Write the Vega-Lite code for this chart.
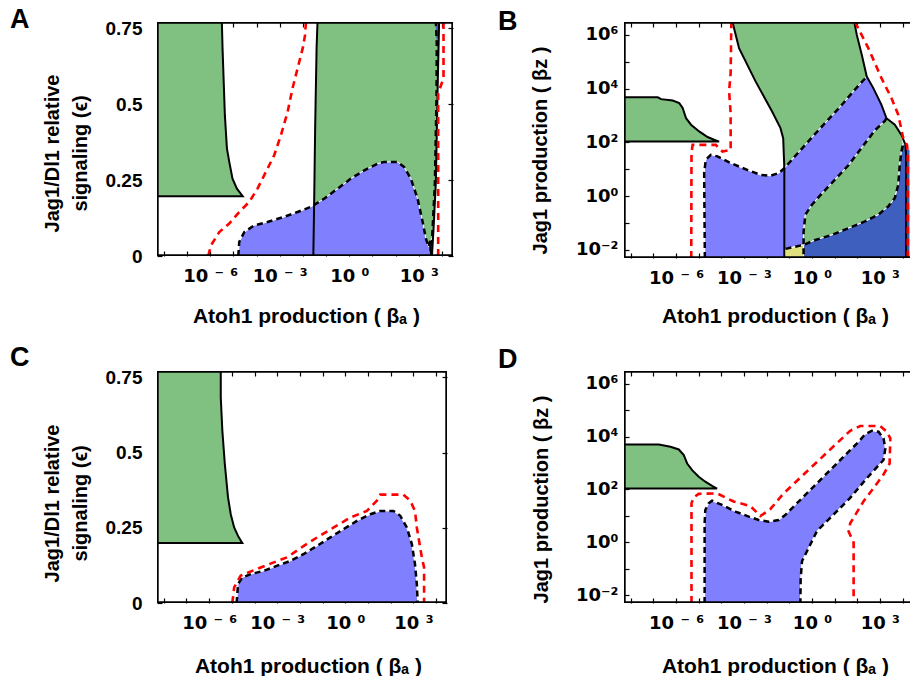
{
"$schema": "https://vega.github.io/schema/vega-lite/v6.json",
"background": "white",
"padding": {"left": 10, "top": 5, "right": 0, "bottom": 0},
"columns": 2,
"bounds": "flush",
"spacing": {"row": 113, "column": 171},
"datasets": {
"A_fill": [
{"g":"g1","c":"green","x":-8.3,"y":0.197},{"g":"g1","c":"green","x":-4.6,"y":0.197},{"g":"g1","c":"green","x":-4.85,"y":0.222},{"g":"g1","c":"green","x":-5.04,"y":0.255},{"g":"g1","c":"green","x":-5.18,"y":0.31},{"g":"g1","c":"green","x":-5.28,"y":0.354},{"g":"g1","c":"green","x":-5.37,"y":0.464},{"g":"g1","c":"green","x":-5.42,"y":0.574},{"g":"g1","c":"green","x":-5.47,"y":0.684},{"g":"g1","c":"green","x":-5.5,"y":0.771},{"g":"g1","c":"green","x":-8.3,"y":0.771},
{"g":"g2","c":"green","x":-1.55,"y":0},{"g":"g2","c":"green","x":-1.51,"y":0.2},{"g":"g2","c":"green","x":-1.47,"y":0.43},{"g":"g2","c":"green","x":-1.41,"y":0.684},{"g":"g2","c":"green","x":-1.37,"y":0.771},{"g":"g2","c":"green","x":3.88,"y":0.771},{"g":"g2","c":"green","x":3.81,"y":0.53},{"g":"g2","c":"green","x":3.74,"y":0.244},{"g":"g2","c":"green","x":3.64,"y":0.09},{"g":"g2","c":"green","x":3.57,"y":0},
{"g":"b1","c":"lightblue","x":-4.79,"y":0},{"g":"b1","c":"lightblue","x":-4.75,"y":0.046},{"g":"b1","c":"lightblue","x":-4.53,"y":0.079},{"g":"b1","c":"lightblue","x":-4.1,"y":0.101},{"g":"b1","c":"lightblue","x":-3.53,"y":0.112},{"g":"b1","c":"lightblue","x":-2.81,"y":0.129},{"g":"b1","c":"lightblue","x":-2.23,"y":0.145},{"g":"b1","c":"lightblue","x":-1.65,"y":0.162},{"g":"b1","c":"lightblue","x":-1.08,"y":0.189},{"g":"b1","c":"lightblue","x":-0.5,"y":0.222},{"g":"b1","c":"lightblue","x":0.07,"y":0.255},{"g":"b1","c":"lightblue","x":0.65,"y":0.282},{"g":"b1","c":"lightblue","x":1.22,"y":0.304},{"g":"b1","c":"lightblue","x":1.51,"y":0.31},{"g":"b1","c":"lightblue","x":2.09,"y":0.31},{"g":"b1","c":"lightblue","x":2.37,"y":0.293},{"g":"b1","c":"lightblue","x":2.66,"y":0.255},{"g":"b1","c":"lightblue","x":2.95,"y":0.189},{"g":"b1","c":"lightblue","x":3.17,"y":0.112},{"g":"b1","c":"lightblue","x":3.31,"y":0.057},{"g":"b1","c":"lightblue","x":3.43,"y":0.03},{"g":"b1","c":"lightblue","x":3.5,"y":0.05},{"g":"b1","c":"lightblue","x":3.58,"y":0.06},{"g":"b1","c":"lightblue","x":3.57,"y":0},
{"g":"d1","c":"darkblue","x":3.72,"y":0.771},{"g":"d1","c":"darkblue","x":3.92,"y":0.771},{"g":"d1","c":"darkblue","x":3.86,"y":0.72},{"g":"d1","c":"darkblue","x":3.78,"y":0.7}
],
"A_solid": [
{"g":"s1","x":-8.3,"y":0.197},{"g":"s1","x":-4.6,"y":0.197},{"g":"s1","x":-4.85,"y":0.222},{"g":"s1","x":-5.04,"y":0.255},{"g":"s1","x":-5.18,"y":0.31},{"g":"s1","x":-5.28,"y":0.354},{"g":"s1","x":-5.37,"y":0.464},{"g":"s1","x":-5.42,"y":0.574},{"g":"s1","x":-5.47,"y":0.684},{"g":"s1","x":-5.5,"y":0.771},
{"g":"s2","x":-1.55,"y":0},{"g":"s2","x":-1.51,"y":0.2},{"g":"s2","x":-1.47,"y":0.43},{"g":"s2","x":-1.41,"y":0.684},{"g":"s2","x":-1.37,"y":0.771},
{"g":"s3","x":3.57,"y":0},{"g":"s3","x":3.64,"y":0.09},{"g":"s3","x":3.74,"y":0.244},{"g":"s3","x":3.81,"y":0.53},{"g":"s3","x":3.88,"y":0.771}
],
"A_dash": [
{"g":"d1","x":-4.79,"y":0},{"g":"d1","x":-4.75,"y":0.046},{"g":"d1","x":-4.53,"y":0.079},{"g":"d1","x":-4.1,"y":0.101},{"g":"d1","x":-3.53,"y":0.112},{"g":"d1","x":-2.81,"y":0.129},{"g":"d1","x":-2.23,"y":0.145},{"g":"d1","x":-1.65,"y":0.162},{"g":"d1","x":-1.08,"y":0.189},{"g":"d1","x":-0.5,"y":0.222},{"g":"d1","x":0.07,"y":0.255},{"g":"d1","x":0.65,"y":0.282},{"g":"d1","x":1.22,"y":0.304},{"g":"d1","x":1.51,"y":0.31},{"g":"d1","x":2.09,"y":0.31},{"g":"d1","x":2.37,"y":0.293},{"g":"d1","x":2.66,"y":0.255},{"g":"d1","x":2.95,"y":0.189},{"g":"d1","x":3.17,"y":0.112},{"g":"d1","x":3.31,"y":0.057},{"g":"d1","x":3.43,"y":0.03},{"g":"d1","x":3.5,"y":0.05},{"g":"d1","x":3.52,"y":0},
{"g":"d2","x":3.53,"y":0},{"g":"d2","x":3.6,"y":0.09},{"g":"d2","x":3.7,"y":0.244},{"g":"d2","x":3.77,"y":0.53},{"g":"d2","x":3.78,"y":0.7},{"g":"d2","x":3.74,"y":0.771}
],
"A_red": [
{"g":"r1","x":-6.09,"y":0},{"g":"r1","x":-5.97,"y":0.035},{"g":"r1","x":-5.61,"y":0.079},{"g":"r1","x":-5.18,"y":0.107},{"g":"r1","x":-4.75,"y":0.145},{"g":"r1","x":-4.32,"y":0.178},{"g":"r1","x":-3.96,"y":0.222},{"g":"r1","x":-3.6,"y":0.277},{"g":"r1","x":-3.24,"y":0.332},{"g":"r1","x":-2.95,"y":0.398},{"g":"r1","x":-2.66,"y":0.475},{"g":"r1","x":-2.45,"y":0.552},{"g":"r1","x":-2.23,"y":0.618},{"g":"r1","x":-2.01,"y":0.684},{"g":"r1","x":-1.91,"y":0.727},{"g":"r1","x":-1.87,"y":0.771},
{"g":"r2","x":3.84,"y":0},{"g":"r2","x":3.84,"y":0.536},{"g":"r2","x":4.07,"y":0.586},{"g":"r2","x":4.07,"y":0.771}
],
"C_fill": [
{"g":"g1","c":"green","x":-8.3,"y":0.199},{"g":"g1","c":"green","x":-4.54,"y":0.199},{"g":"g1","c":"green","x":-4.73,"y":0.223},{"g":"g1","c":"green","x":-4.9,"y":0.251},{"g":"g1","c":"green","x":-5.05,"y":0.295},{"g":"g1","c":"green","x":-5.17,"y":0.351},{"g":"g1","c":"green","x":-5.31,"y":0.461},{"g":"g1","c":"green","x":-5.42,"y":0.572},{"g":"g1","c":"green","x":-5.49,"y":0.683},{"g":"g1","c":"green","x":-5.49,"y":0.771},{"g":"g1","c":"green","x":-8.3,"y":0.771},
{"g":"b1","c":"lightblue","x":-4.79,"y":0},{"g":"b1","c":"lightblue","x":-4.73,"y":0.063},{"g":"b1","c":"lightblue","x":-4.54,"y":0.085},{"g":"b1","c":"lightblue","x":-4.17,"y":0.096},{"g":"b1","c":"lightblue","x":-3.59,"y":0.107},{"g":"b1","c":"lightblue","x":-3.0,"y":0.124},{"g":"b1","c":"lightblue","x":-2.42,"y":0.14},{"g":"b1","c":"lightblue","x":-1.83,"y":0.163},{"g":"b1","c":"lightblue","x":-1.24,"y":0.19},{"g":"b1","c":"lightblue","x":-0.66,"y":0.218},{"g":"b1","c":"lightblue","x":-0.07,"y":0.246},{"g":"b1","c":"lightblue","x":0.51,"y":0.273},{"g":"b1","c":"lightblue","x":1.1,"y":0.295},{"g":"b1","c":"lightblue","x":1.54,"y":0.306},{"g":"b1","c":"lightblue","x":2.12,"y":0.306},{"g":"b1","c":"lightblue","x":2.42,"y":0.29},{"g":"b1","c":"lightblue","x":2.71,"y":0.251},{"g":"b1","c":"lightblue","x":2.93,"y":0.196},{"g":"b1","c":"lightblue","x":3.07,"y":0.129},{"g":"b1","c":"lightblue","x":3.15,"y":0.063},{"g":"b1","c":"lightblue","x":3.19,"y":0}
],
"C_solid": [
{"g":"s1","x":-8.3,"y":0.199},{"g":"s1","x":-4.54,"y":0.199},{"g":"s1","x":-4.73,"y":0.223},{"g":"s1","x":-4.9,"y":0.251},{"g":"s1","x":-5.05,"y":0.295},{"g":"s1","x":-5.17,"y":0.351},{"g":"s1","x":-5.31,"y":0.461},{"g":"s1","x":-5.42,"y":0.572},{"g":"s1","x":-5.49,"y":0.683},{"g":"s1","x":-5.49,"y":0.771}
],
"C_dash": [
{"g":"d1","x":-4.79,"y":0},{"g":"d1","x":-4.73,"y":0.063},{"g":"d1","x":-4.54,"y":0.085},{"g":"d1","x":-4.17,"y":0.096},{"g":"d1","x":-3.59,"y":0.107},{"g":"d1","x":-3.0,"y":0.124},{"g":"d1","x":-2.42,"y":0.14},{"g":"d1","x":-1.83,"y":0.163},{"g":"d1","x":-1.24,"y":0.19},{"g":"d1","x":-0.66,"y":0.218},{"g":"d1","x":-0.07,"y":0.246},{"g":"d1","x":0.51,"y":0.273},{"g":"d1","x":1.1,"y":0.295},{"g":"d1","x":1.54,"y":0.306},{"g":"d1","x":2.12,"y":0.306},{"g":"d1","x":2.42,"y":0.29},{"g":"d1","x":2.71,"y":0.251},{"g":"d1","x":2.93,"y":0.196},{"g":"d1","x":3.07,"y":0.129},{"g":"d1","x":3.15,"y":0.063},{"g":"d1","x":3.19,"y":0}
],
"C_red": [
{"g":"r1","x":-4.98,"y":0},{"g":"r1","x":-4.9,"y":0.052},{"g":"r1","x":-4.61,"y":0.091},{"g":"r1","x":-3.73,"y":0.118},{"g":"r1","x":-3.15,"y":0.135},{"g":"r1","x":-2.56,"y":0.152},{"g":"r1","x":-1.83,"y":0.19},{"g":"r1","x":-1.24,"y":0.218},{"g":"r1","x":-0.51,"y":0.251},{"g":"r1","x":0.22,"y":0.284},{"g":"r1","x":0.95,"y":0.306},{"g":"r1","x":1.39,"y":0.34},{"g":"r1","x":1.54,"y":0.36},{"g":"r1","x":2.56,"y":0.36},{"g":"r1","x":2.86,"y":0.34},{"g":"r1","x":3.07,"y":0.306},{"g":"r1","x":3.15,"y":0.251},{"g":"r1","x":3.37,"y":0.152},{"g":"r1","x":3.47,"y":0.118},{"g":"r1","x":3.47,"y":0}
],
"B_fill": [
{"g":"g1","c":"green","x":-8.3,"y":2.03},{"g":"g1","c":"green","x":-4.1,"y":2.03},{"g":"g1","c":"green","x":-4.32,"y":2.1},{"g":"g1","c":"green","x":-4.61,"y":2.2},{"g":"g1","c":"green","x":-4.98,"y":2.41},{"g":"g1","c":"green","x":-5.34,"y":2.66},{"g":"g1","c":"green","x":-5.56,"y":2.9},{"g":"g1","c":"green","x":-5.71,"y":3.28},{"g":"g1","c":"green","x":-5.86,"y":3.46},{"g":"g1","c":"green","x":-6.15,"y":3.56},{"g":"g1","c":"green","x":-6.66,"y":3.61},{"g":"g1","c":"green","x":-6.81,"y":3.68},{"g":"g1","c":"green","x":-8.3,"y":3.68},
{"g":"g2","c":"green","x":-3.51,"y":6.48},{"g":"g2","c":"green","x":-3.22,"y":5.51},{"g":"g2","c":"green","x":-2.49,"y":4.27},{"g":"g2","c":"green","x":-1.76,"y":3.15},{"g":"g2","c":"green","x":-1.39,"y":2.53},{"g":"g2","c":"green","x":-1.27,"y":2.16},{"g":"g2","c":"green","x":-1.24,"y":1.5},{"g":"g2","c":"green","x":-1.22,"y":1.04},{"g":"g2","c":"green","x":-0.5,"y":1.72},{"g":"g2","c":"green","x":0.37,"y":2.53},{"g":"g2","c":"green","x":1.24,"y":3.32},{"g":"g2","c":"green","x":1.83,"y":3.9},{"g":"g2","c":"green","x":2.42,"y":4.45},{"g":"g2","c":"green","x":2.2,"y":5.26},{"g":"g2","c":"green","x":1.98,"y":6.0},{"g":"g2","c":"green","x":1.87,"y":6.48},
{"g":"b1","c":"lightblue","x":-4.73,"y":-2.3},{"g":"b1","c":"lightblue","x":-4.76,"y":0.86},{"g":"b1","c":"lightblue","x":-4.69,"y":1.35},{"g":"b1","c":"lightblue","x":-4.47,"y":1.54},{"g":"b1","c":"lightblue","x":-4.17,"y":1.48},{"g":"b1","c":"lightblue","x":-3.59,"y":1.23},{"g":"b1","c":"lightblue","x":-2.86,"y":0.98},{"g":"b1","c":"lightblue","x":-2.27,"y":0.79},{"g":"b1","c":"lightblue","x":-1.83,"y":0.76},{"g":"b1","c":"lightblue","x":-1.46,"y":0.86},{"g":"b1","c":"lightblue","x":-1.22,"y":1.04},{"g":"b1","c":"lightblue","x":-0.5,"y":1.72},{"g":"b1","c":"lightblue","x":0.37,"y":2.53},{"g":"b1","c":"lightblue","x":1.24,"y":3.32},{"g":"b1","c":"lightblue","x":1.83,"y":3.9},{"g":"b1","c":"lightblue","x":2.42,"y":4.45},{"g":"b1","c":"lightblue","x":2.71,"y":4.02},{"g":"b1","c":"lightblue","x":3.07,"y":3.4},{"g":"b1","c":"lightblue","x":3.29,"y":2.9},{"g":"b1","c":"lightblue","x":3.22,"y":2.8},{"g":"b1","c":"lightblue","x":2.78,"y":2.45},{"g":"b1","c":"lightblue","x":1.61,"y":1.15},{"g":"b1","c":"lightblue","x":0.44,"y":0.1},{"g":"b1","c":"lightblue","x":0,"y":-0.32},{"g":"b1","c":"lightblue","x":-0.29,"y":-0.69},{"g":"b1","c":"lightblue","x":-0.37,"y":-1.32},{"g":"b1","c":"lightblue","x":-0.37,"y":-1.81},{"g":"b1","c":"lightblue","x":-1.17,"y":-1.96},{"g":"b1","c":"lightblue","x":-1.19,"y":-2.3},
{"g":"g3","c":"green","x":3.29,"y":2.9},{"g":"g3","c":"green","x":3.66,"y":2.66},{"g":"g3","c":"green","x":3.95,"y":2.28},{"g":"g3","c":"green","x":4.03,"y":1.95},{"g":"g3","c":"green","x":3.95,"y":1.66},{"g":"g3","c":"green","x":3.88,"y":1.17},{"g":"g3","c":"green","x":3.81,"y":0.42},{"g":"g3","c":"green","x":3.66,"y":-0.07},{"g":"g3","c":"green","x":3.37,"y":-0.38},{"g":"g3","c":"green","x":2.93,"y":-0.69},{"g":"g3","c":"green","x":2.34,"y":-0.94},{"g":"g3","c":"green","x":1.61,"y":-1.19},{"g":"g3","c":"green","x":0.88,"y":-1.44},{"g":"g3","c":"green","x":0.15,"y":-1.63},{"g":"g3","c":"green","x":-0.37,"y":-1.81},{"g":"g3","c":"green","x":-0.37,"y":-1.32},{"g":"g3","c":"green","x":-0.29,"y":-0.69},{"g":"g3","c":"green","x":0,"y":-0.32},{"g":"g3","c":"green","x":0.44,"y":0.1},{"g":"g3","c":"green","x":1.61,"y":1.15},{"g":"g3","c":"green","x":2.78,"y":2.45},{"g":"g3","c":"green","x":3.22,"y":2.8},
{"g":"d1","c":"darkblue","x":-0.37,"y":-1.81},{"g":"d1","c":"darkblue","x":0.15,"y":-1.63},{"g":"d1","c":"darkblue","x":0.88,"y":-1.44},{"g":"d1","c":"darkblue","x":1.61,"y":-1.19},{"g":"d1","c":"darkblue","x":2.34,"y":-0.94},{"g":"d1","c":"darkblue","x":2.93,"y":-0.69},{"g":"d1","c":"darkblue","x":3.37,"y":-0.38},{"g":"d1","c":"darkblue","x":3.66,"y":-0.07},{"g":"d1","c":"darkblue","x":3.81,"y":0.42},{"g":"d1","c":"darkblue","x":3.88,"y":1.17},{"g":"d1","c":"darkblue","x":3.95,"y":1.66},{"g":"d1","c":"darkblue","x":4.03,"y":1.95},{"g":"d1","c":"darkblue","x":4.13,"y":1.91},{"g":"d1","c":"darkblue","x":4.2,"y":1.75},{"g":"d1","c":"darkblue","x":4.33,"y":1.75},{"g":"d1","c":"darkblue","x":4.33,"y":-2.3},{"g":"d1","c":"darkblue","x":-0.37,"y":-2.3},
{"g":"y1","c":"yellow","x":-1.19,"y":-2.3},{"g":"y1","c":"yellow","x":-1.17,"y":-1.96},{"g":"y1","c":"yellow","x":-0.37,"y":-1.81},{"g":"y1","c":"yellow","x":-0.37,"y":-2.3}
],
"B_solid": [
{"g":"s1","x":-8.3,"y":3.68},{"g":"s1","x":-6.81,"y":3.68},{"g":"s1","x":-6.66,"y":3.61},{"g":"s1","x":-6.15,"y":3.56},{"g":"s1","x":-5.86,"y":3.46},{"g":"s1","x":-5.71,"y":3.28},{"g":"s1","x":-5.56,"y":2.9},{"g":"s1","x":-5.34,"y":2.66},{"g":"s1","x":-4.98,"y":2.41},{"g":"s1","x":-4.61,"y":2.2},{"g":"s1","x":-4.32,"y":2.1},{"g":"s1","x":-4.1,"y":2.03},{"g":"s1","x":-8.3,"y":2.03},
{"g":"s2","x":-3.51,"y":6.48},{"g":"s2","x":-3.22,"y":5.51},{"g":"s2","x":-2.49,"y":4.27},{"g":"s2","x":-1.76,"y":3.15},{"g":"s2","x":-1.39,"y":2.53},{"g":"s2","x":-1.27,"y":2.16},{"g":"s2","x":-1.24,"y":1.5},{"g":"s2","x":-1.22,"y":1.04},{"g":"s2","x":-1.22,"y":-2.3},
{"g":"s3","x":1.87,"y":6.48},{"g":"s3","x":1.98,"y":6.0},{"g":"s3","x":2.2,"y":5.26},{"g":"s3","x":2.42,"y":4.45},{"g":"s3","x":2.71,"y":4.02},{"g":"s3","x":3.07,"y":3.4},{"g":"s3","x":3.29,"y":2.9},{"g":"s3","x":3.66,"y":2.66},{"g":"s3","x":3.95,"y":2.28},{"g":"s3","x":4.13,"y":1.91},{"g":"s3","x":4.16,"y":1.48},{"g":"s3","x":4.16,"y":-2.3}
],
"B_dash": [
{"g":"d1","x":-4.73,"y":-2.3},{"g":"d1","x":-4.76,"y":0.86},{"g":"d1","x":-4.69,"y":1.35},{"g":"d1","x":-4.47,"y":1.54},{"g":"d1","x":-4.17,"y":1.48},{"g":"d1","x":-3.59,"y":1.23},{"g":"d1","x":-2.86,"y":0.98},{"g":"d1","x":-2.27,"y":0.79},{"g":"d1","x":-1.83,"y":0.76},{"g":"d1","x":-1.46,"y":0.86},{"g":"d1","x":-1.22,"y":1.04},{"g":"d1","x":-0.5,"y":1.72},{"g":"d1","x":0.37,"y":2.53},{"g":"d1","x":1.24,"y":3.32},{"g":"d1","x":1.83,"y":3.9},{"g":"d1","x":2.42,"y":4.45},
{"g":"d2","x":3.29,"y":2.9},{"g":"d2","x":3.22,"y":2.8},{"g":"d2","x":2.78,"y":2.45},{"g":"d2","x":1.61,"y":1.15},{"g":"d2","x":0.44,"y":0.1},{"g":"d2","x":0,"y":-0.32},{"g":"d2","x":-0.29,"y":-0.69},{"g":"d2","x":-0.37,"y":-1.32},{"g":"d2","x":-0.37,"y":-2.3},
{"g":"d3","x":-1.17,"y":-1.96},{"g":"d3","x":-0.37,"y":-1.81},{"g":"d3","x":0.15,"y":-1.63},{"g":"d3","x":0.88,"y":-1.44},{"g":"d3","x":1.61,"y":-1.19},{"g":"d3","x":2.34,"y":-0.94},{"g":"d3","x":2.93,"y":-0.69},{"g":"d3","x":3.37,"y":-0.38},{"g":"d3","x":3.66,"y":-0.07},{"g":"d3","x":3.81,"y":0.42},{"g":"d3","x":3.88,"y":1.17},{"g":"d3","x":3.95,"y":1.66},{"g":"d3","x":4.03,"y":1.95}
],
"B_red": [
{"g":"r1","x":-5.33,"y":-2.3},{"g":"r1","x":-5.32,"y":1.6},{"g":"r1","x":-5.27,"y":1.91},{"g":"r1","x":-4.25,"y":1.91},{"g":"r1","x":-3.95,"y":1.66},{"g":"r1","x":-3.59,"y":1.72},{"g":"r1","x":-3.59,"y":3.09},{"g":"r1","x":-3.66,"y":3.9},{"g":"r1","x":-3.59,"y":4.58},{"g":"r1","x":-3.56,"y":6.48},
{"g":"r2","x":1.9,"y":6.48},{"g":"r2","x":2.49,"y":5.51},{"g":"r2","x":3.07,"y":4.39},{"g":"r2","x":3.51,"y":3.65},{"g":"r2","x":3.81,"y":3.03},{"g":"r2","x":4.03,"y":2.16},{"g":"r2","x":4.2,"y":1.9},{"g":"r2","x":4.23,"y":1.5},{"g":"r2","x":4.23,"y":-2.3}
],
"D_fill": [
{"g":"g1","c":"green","x":-8.3,"y":2.03},{"g":"g1","c":"green","x":-4.19,"y":2.03},{"g":"g1","c":"green","x":-4.41,"y":2.13},{"g":"g1","c":"green","x":-4.71,"y":2.29},{"g":"g1","c":"green","x":-5.0,"y":2.48},{"g":"g1","c":"green","x":-5.29,"y":2.73},{"g":"g1","c":"green","x":-5.51,"y":2.98},{"g":"g1","c":"green","x":-5.66,"y":3.3},{"g":"g1","c":"green","x":-5.88,"y":3.51},{"g":"g1","c":"green","x":-6.25,"y":3.61},{"g":"g1","c":"green","x":-6.76,"y":3.7},{"g":"g1","c":"green","x":-8.3,"y":3.7},
{"g":"b1","c":"lightblue","x":-4.74,"y":-2.3},{"g":"b1","c":"lightblue","x":-4.74,"y":0.72},{"g":"b1","c":"lightblue","x":-4.71,"y":1.22},{"g":"b1","c":"lightblue","x":-4.56,"y":1.47},{"g":"b1","c":"lightblue","x":-4.41,"y":1.57},{"g":"b1","c":"lightblue","x":-3.97,"y":1.41},{"g":"b1","c":"lightblue","x":-3.38,"y":1.16},{"g":"b1","c":"lightblue","x":-2.79,"y":0.97},{"g":"b1","c":"lightblue","x":-2.35,"y":0.84},{"g":"b1","c":"lightblue","x":-1.91,"y":0.78},{"g":"b1","c":"lightblue","x":-1.47,"y":0.84},{"g":"b1","c":"lightblue","x":-1.18,"y":1.03},{"g":"b1","c":"lightblue","x":-0.74,"y":1.41},{"g":"b1","c":"lightblue","x":-0.15,"y":1.91},{"g":"b1","c":"lightblue","x":0.44,"y":2.42},{"g":"b1","c":"lightblue","x":1.03,"y":2.92},{"g":"b1","c":"lightblue","x":1.62,"y":3.43},{"g":"b1","c":"lightblue","x":2.06,"y":3.8},{"g":"b1","c":"lightblue","x":2.35,"y":4.09},{"g":"b1","c":"lightblue","x":2.65,"y":4.22},{"g":"b1","c":"lightblue","x":2.94,"y":4.18},{"g":"b1","c":"lightblue","x":3.16,"y":3.93},{"g":"b1","c":"lightblue","x":3.24,"y":3.55},{"g":"b1","c":"lightblue","x":3.16,"y":3.11},{"g":"b1","c":"lightblue","x":2.43,"y":2.43},{"g":"b1","c":"lightblue","x":1.69,"y":1.68},{"g":"b1","c":"lightblue","x":0.96,"y":1.05},{"g":"b1","c":"lightblue","x":0.22,"y":0.42},{"g":"b1","c":"lightblue","x":-0.22,"y":-0.34},{"g":"b1","c":"lightblue","x":-0.44,"y":-0.72},{"g":"b1","c":"lightblue","x":-0.5,"y":-1.42},{"g":"b1","c":"lightblue","x":-0.51,"y":-2.3}
],
"D_solid": [
{"g":"s1","x":-8.3,"y":3.7},{"g":"s1","x":-6.76,"y":3.7},{"g":"s1","x":-6.25,"y":3.61},{"g":"s1","x":-5.88,"y":3.51},{"g":"s1","x":-5.66,"y":3.3},{"g":"s1","x":-5.51,"y":2.98},{"g":"s1","x":-5.29,"y":2.73},{"g":"s1","x":-5.0,"y":2.48},{"g":"s1","x":-4.71,"y":2.29},{"g":"s1","x":-4.41,"y":2.13},{"g":"s1","x":-4.19,"y":2.03},{"g":"s1","x":-8.3,"y":2.03}
],
"D_dash": [
{"g":"d1","x":-4.74,"y":-2.3},{"g":"d1","x":-4.74,"y":0.72},{"g":"d1","x":-4.71,"y":1.22},{"g":"d1","x":-4.56,"y":1.47},{"g":"d1","x":-4.41,"y":1.57},{"g":"d1","x":-3.97,"y":1.41},{"g":"d1","x":-3.38,"y":1.16},{"g":"d1","x":-2.79,"y":0.97},{"g":"d1","x":-2.35,"y":0.84},{"g":"d1","x":-1.91,"y":0.78},{"g":"d1","x":-1.47,"y":0.84},{"g":"d1","x":-1.18,"y":1.03},{"g":"d1","x":-0.74,"y":1.41},{"g":"d1","x":-0.15,"y":1.91},{"g":"d1","x":0.44,"y":2.42},{"g":"d1","x":1.03,"y":2.92},{"g":"d1","x":1.62,"y":3.43},{"g":"d1","x":2.06,"y":3.8},{"g":"d1","x":2.35,"y":4.09},{"g":"d1","x":2.65,"y":4.22},{"g":"d1","x":2.94,"y":4.18},{"g":"d1","x":3.16,"y":3.93},{"g":"d1","x":3.24,"y":3.55},{"g":"d1","x":3.16,"y":3.11},{"g":"d1","x":2.43,"y":2.43},{"g":"d1","x":1.69,"y":1.68},{"g":"d1","x":0.96,"y":1.05},{"g":"d1","x":0.22,"y":0.42},{"g":"d1","x":-0.22,"y":-0.34},{"g":"d1","x":-0.44,"y":-0.72},{"g":"d1","x":-0.5,"y":-1.42},{"g":"d1","x":-0.51,"y":-2.3}
],
"D_red": [
{"g":"r1","x":-5.32,"y":-2.3},{"g":"r1","x":-5.32,"y":1.47},{"g":"r1","x":-5.22,"y":1.7},{"g":"r1","x":-5.0,"y":1.83},{"g":"r1","x":-4.19,"y":1.85},{"g":"r1","x":-3.46,"y":1.54},{"g":"r1","x":-2.72,"y":1.37},{"g":"r1","x":-2.28,"y":0.99},{"g":"r1","x":-1.84,"y":1.25},{"g":"r1","x":-1.25,"y":1.85},{"g":"r1","x":0.15,"y":2.98},{"g":"r1","x":1.69,"y":4.22},{"g":"r1","x":2.13,"y":4.4},{"g":"r1","x":3.01,"y":4.4},{"g":"r1","x":3.31,"y":4.18},{"g":"r1","x":3.46,"y":3.93},{"g":"r1","x":3.43,"y":2.98},{"g":"r1","x":3.16,"y":2.56},{"g":"r1","x":2.72,"y":2.05},{"g":"r1","x":2.28,"y":1.55},{"g":"r1","x":1.69,"y":0.72},{"g":"r1","x":1.62,"y":0.4},{"g":"r1","x":1.84,"y":-0.01},{"g":"r1","x":1.84,"y":-2.3}
]
},
"concat": [
{
"width": 296, "height": 234,
"title": {"text": "A", "dx": -147, "offset": -35.6, "baseline": "alphabetic"},
"layer": [
{"data": {"name": "A_fill"},
 "mark": {"type": "line", "filled": true, "stroke": "white", "strokeWidth": 1, "clip": true},
 "encoding": {
  "x": {"field": "x", "type": "quantitative", "scale": {"domain": [-8.3, 4.48], "nice": false, "zero": false},
        "axis": {"orient": "bottom", "values": [-8,-7,-6,-5,-4,-3,-2,-1,0,1,2,3,4], "labelExpr": "datum.value == -6 ? '10 ⁻ ⁶' : datum.value == -3 ? '10 ⁻ ³' : datum.value == 0 ? '10 ⁰' : datum.value == 3 ? '10 ³' : ''", "labelFont": "DejaVu Sans", "labelFontSize": 18, "labelPadding": 16, "title": "Atoh1 production ( βₐ )", "titleFontSize": 21, "titleX": 149, "titleY": 66, "titleBaseline": "alphabetic"}},
  "y": {"field": "y", "type": "quantitative", "scale": {"domain": [0, 0.771], "nice": false, "zero": false},
        "axis": {"orient": "left", "values": [0, 0.25, 0.5, 0.75], "labelExpr": "datum.value == 0 ? '0' : datum.value == 0.25 ? '0.25' : datum.value == 0.5 ? '0.5' : '0.75'", "labelPadding": 20, "title": ["Jag1/Dl1 relative", "signaling (ϵ)"], "titleLineHeight": 28, "titleX": -99, "titleY": 131, "titleBaseline": "alphabetic"}},
  "color": {"field": "c", "type": "nominal", "scale": {"domain": ["green", "lightblue", "darkblue", "yellow"], "range": ["#80C080", "#8080FF", "#3F5FBF", "#E0E080"]}, "legend": null},
  "detail": {"field": "g"},
  "order": {"value": null}
 }},
{"data": {"name": "A_solid"},
 "mark": {"type": "line", "color": "black", "strokeWidth": 2, "clip": true},
 "encoding": {
  "x": {"field": "x", "type": "quantitative", "scale": {"domain": [-8.3, 4.48], "nice": false, "zero": false}, "axis": null},
  "y": {"field": "y", "type": "quantitative", "scale": {"domain": [0, 0.771], "nice": false, "zero": false}, "axis": null},
  "detail": {"field": "g"}, "order": {"value": null}}},
{"data": {"name": "A_dash"},
 "mark": {"type": "line", "color": "black", "strokeWidth": 2.5, "strokeDash": [6, 4], "clip": true},
 "encoding": {
  "x": {"field": "x", "type": "quantitative", "scale": {"domain": [-8.3, 4.48], "nice": false, "zero": false}, "axis": null},
  "y": {"field": "y", "type": "quantitative", "scale": {"domain": [0, 0.771], "nice": false, "zero": false}, "axis": null},
  "detail": {"field": "g"}, "order": {"value": null}}},
{"data": {"name": "A_red"},
 "mark": {"type": "line", "color": "#ff0000", "strokeWidth": 2.6, "strokeDash": [7, 5], "clip": true},
 "encoding": {
  "x": {"field": "x", "type": "quantitative", "scale": {"domain": [-8.3, 4.48], "nice": false, "zero": false}, "axis": {"orient": "top", "labels": false, "title": null, "values": [-8,-7,-6,-5,-4,-3,-2,-1,0,1,2,3,4]}},
  "y": {"field": "y", "type": "quantitative", "scale": {"domain": [0, 0.771], "nice": false, "zero": false}, "axis": {"orient": "right", "labels": false, "title": null, "values": [0, 0.25, 0.5, 0.75]}},
  "detail": {"field": "g"}, "order": {"value": null}}},
{"data": {"values": [{}]},
 "mark": {"type": "rect", "filled": false, "stroke": "black", "strokeWidth": 3.4, "clip": true},
 "encoding": {
  "x": {"datum": -8.3, "type": "quantitative", "scale": {"domain": [-8.3, 4.48], "nice": false, "zero": false}, "axis": null},
  "x2": {"datum": 4.48},
  "y": {"datum": 0, "type": "quantitative", "scale": {"domain": [0, 0.771], "nice": false, "zero": false}, "axis": null},
  "y2": {"datum": 0.771}}}
],
"resolve": {"axis": {"x": "independent", "y": "independent"}}
},
{
"width": 286, "height": 236,
"title": {"text": "B", "dx": -126, "offset": -35.6, "baseline": "alphabetic"},
"layer": [
{"data": {"name": "B_fill"},
 "mark": {"type": "line", "filled": true, "stroke": "white", "strokeWidth": 1, "clip": true},
 "encoding": {
  "x": {"field": "x", "type": "quantitative", "scale": {"domain": [-8.3, 4.33], "nice": false, "zero": false},
        "axis": {"orient": "bottom", "values": [-8,-7,-6,-5,-4,-3,-2,-1,0,1,2,3,4], "labelExpr": "datum.value == -6 ? '10 ⁻ ⁶' : datum.value == -3 ? '10 ⁻ ³' : datum.value == 0 ? '10 ⁰' : datum.value == 3 ? '10 ³' : ''", "labelFont": "DejaVu Sans", "labelFontSize": 18, "labelPadding": 16, "title": "Atoh1 production ( βₐ )", "titleFontSize": 21, "titleX": 151, "titleY": 64, "titleBaseline": "alphabetic"}},
  "y": {"field": "y", "type": "quantitative", "scale": {"domain": [-2.3, 6.48], "nice": false, "zero": false},
        "axis": {"orient": "left", "values": [-2,-1,0,1,2,3,4,5,6], "labelExpr": "datum.value == -2 ? '10⁻²' : datum.value == 0 ? '10⁰' : datum.value == 2 ? '10²' : datum.value == 4 ? '10⁴' : datum.value == 6 ? '10⁶' : ''", "labelFont": "DejaVu Sans", "labelFontSize": 18, "labelPadding": 11, "title": "Jag1 production ( βz )", "titleX": -78, "titleY": 128, "titleBaseline": "alphabetic"}},
  "color": {"field": "c", "type": "nominal", "scale": {"domain": ["green", "lightblue", "darkblue", "yellow"], "range": ["#80C080", "#8080FF", "#3F5FBF", "#E0E080"]}, "legend": null},
  "detail": {"field": "g"},
  "order": {"value": null}
 }},
{"data": {"name": "B_solid"},
 "mark": {"type": "line", "color": "black", "strokeWidth": 2, "clip": true},
 "encoding": {
  "x": {"field": "x", "type": "quantitative", "scale": {"domain": [-8.3, 4.33], "nice": false, "zero": false}, "axis": null},
  "y": {"field": "y", "type": "quantitative", "scale": {"domain": [-2.3, 6.48], "nice": false, "zero": false}, "axis": null},
  "detail": {"field": "g"}, "order": {"value": null}}},
{"data": {"name": "B_dash"},
 "mark": {"type": "line", "color": "black", "strokeWidth": 2.5, "strokeDash": [6, 4], "clip": true},
 "encoding": {
  "x": {"field": "x", "type": "quantitative", "scale": {"domain": [-8.3, 4.33], "nice": false, "zero": false}, "axis": null},
  "y": {"field": "y", "type": "quantitative", "scale": {"domain": [-2.3, 6.48], "nice": false, "zero": false}, "axis": null},
  "detail": {"field": "g"}, "order": {"value": null}}},
{"data": {"name": "B_red"},
 "mark": {"type": "line", "color": "#ff0000", "strokeWidth": 2.6, "strokeDash": [7, 5], "clip": true},
 "encoding": {
  "x": {"field": "x", "type": "quantitative", "scale": {"domain": [-8.3, 4.33], "nice": false, "zero": false}, "axis": {"orient": "top", "labels": false, "title": null, "values": [-8,-7,-6,-5,-4,-3,-2,-1,0,1,2,3,4]}},
  "y": {"field": "y", "type": "quantitative", "scale": {"domain": [-2.3, 6.48], "nice": false, "zero": false}, "axis": null},
  "detail": {"field": "g"}, "order": {"value": null}}},
{"data": {"values": [{}]},
 "mark": {"type": "rect", "filled": false, "stroke": "black", "strokeWidth": 3.4, "clip": true},
 "encoding": {
  "x": {"datum": -8.3, "type": "quantitative", "scale": {"domain": [-8.3, 4.33], "nice": false, "zero": false}, "axis": null},
  "x2": {"datum": 4.6},
  "y": {"datum": -2.3, "type": "quantitative", "scale": {"domain": [-2.3, 6.48], "nice": false, "zero": false}, "axis": null},
  "y2": {"datum": 6.48}}}
],
"resolve": {"axis": {"x": "independent", "y": "independent"}}
},
{
"width": 290, "height": 232,
"title": {"text": "C", "dx": -147, "offset": -24.3, "baseline": "alphabetic"},
"layer": [
{"data": {"name": "C_fill"},
 "mark": {"type": "line", "filled": true, "stroke": "white", "strokeWidth": 1, "clip": true},
 "encoding": {
  "x": {"field": "x", "type": "quantitative", "scale": {"domain": [-8.3, 4.48], "nice": false, "zero": false},
        "axis": {"orient": "bottom", "values": [-8,-7,-6,-5,-4,-3,-2,-1,0,1,2,3,4], "labelExpr": "datum.value == -6 ? '10 ⁻ ⁶' : datum.value == -3 ? '10 ⁻ ³' : datum.value == 0 ? '10 ⁰' : datum.value == 3 ? '10 ³' : ''", "labelFont": "DejaVu Sans", "labelFontSize": 18, "labelPadding": 16, "title": "Atoh1 production ( βₐ )", "titleFontSize": 21, "titleX": 151, "titleY": 69, "titleBaseline": "alphabetic"}},
  "y": {"field": "y", "type": "quantitative", "scale": {"domain": [0, 0.771], "nice": false, "zero": false},
        "axis": {"orient": "left", "values": [0, 0.25, 0.5, 0.75], "labelExpr": "datum.value == 0 ? '0' : datum.value == 0.25 ? '0.25' : datum.value == 0.5 ? '0.5' : '0.75'", "labelPadding": 20, "title": ["Jag1/Dl1 relative", "signaling (ϵ)"], "titleLineHeight": 28, "titleX": -99, "titleY": 132, "titleBaseline": "alphabetic"}},
  "color": {"field": "c", "type": "nominal", "scale": {"domain": ["green", "lightblue", "darkblue", "yellow"], "range": ["#80C080", "#8080FF", "#3F5FBF", "#E0E080"]}, "legend": null},
  "detail": {"field": "g"},
  "order": {"value": null}
 }},
{"data": {"name": "C_solid"},
 "mark": {"type": "line", "color": "black", "strokeWidth": 2, "clip": true},
 "encoding": {
  "x": {"field": "x", "type": "quantitative", "scale": {"domain": [-8.3, 4.48], "nice": false, "zero": false}, "axis": null},
  "y": {"field": "y", "type": "quantitative", "scale": {"domain": [0, 0.771], "nice": false, "zero": false}, "axis": null},
  "detail": {"field": "g"}, "order": {"value": null}}},
{"data": {"name": "C_dash"},
 "mark": {"type": "line", "color": "black", "strokeWidth": 2.5, "strokeDash": [6, 4], "clip": true},
 "encoding": {
  "x": {"field": "x", "type": "quantitative", "scale": {"domain": [-8.3, 4.48], "nice": false, "zero": false}, "axis": null},
  "y": {"field": "y", "type": "quantitative", "scale": {"domain": [0, 0.771], "nice": false, "zero": false}, "axis": null},
  "detail": {"field": "g"}, "order": {"value": null}}},
{"data": {"name": "C_red"},
 "mark": {"type": "line", "color": "#ff0000", "strokeWidth": 2.6, "strokeDash": [7, 5], "clip": true},
 "encoding": {
  "x": {"field": "x", "type": "quantitative", "scale": {"domain": [-8.3, 4.48], "nice": false, "zero": false}, "axis": {"orient": "top", "labels": false, "title": null, "values": [-8,-7,-6,-5,-4,-3,-2,-1,0,1,2,3,4]}},
  "y": {"field": "y", "type": "quantitative", "scale": {"domain": [0, 0.771], "nice": false, "zero": false}, "axis": {"orient": "right", "labels": false, "title": null, "values": [0, 0.25, 0.5, 0.75]}},
  "detail": {"field": "g"}, "order": {"value": null}}},
{"data": {"values": [{}]},
 "mark": {"type": "rect", "filled": false, "stroke": "black", "strokeWidth": 3.4, "clip": true},
 "encoding": {
  "x": {"datum": -8.3, "type": "quantitative", "scale": {"domain": [-8.3, 4.48], "nice": false, "zero": false}, "axis": null},
  "x2": {"datum": 4.48},
  "y": {"datum": 0, "type": "quantitative", "scale": {"domain": [0, 0.771], "nice": false, "zero": false}, "axis": null},
  "y2": {"datum": 0.771}}}
],
"resolve": {"axis": {"x": "independent", "y": "independent"}}
},
{
"width": 286, "height": 232,
"title": {"text": "D", "dx": -126, "offset": -24.3, "baseline": "alphabetic"},
"layer": [
{"data": {"name": "D_fill"},
 "mark": {"type": "line", "filled": true, "stroke": "white", "strokeWidth": 1, "clip": true},
 "encoding": {
  "x": {"field": "x", "type": "quantitative", "scale": {"domain": [-8.3, 4.33], "nice": false, "zero": false},
        "axis": {"orient": "bottom", "values": [-8,-7,-6,-5,-4,-3,-2,-1,0,1,2,3,4], "labelExpr": "datum.value == -6 ? '10 ⁻ ⁶' : datum.value == -3 ? '10 ⁻ ³' : datum.value == 0 ? '10 ⁰' : datum.value == 3 ? '10 ³' : ''", "labelFont": "DejaVu Sans", "labelFontSize": 18, "labelPadding": 16, "title": "Atoh1 production ( βₐ )", "titleFontSize": 21, "titleX": 151, "titleY": 69, "titleBaseline": "alphabetic"}},
  "y": {"field": "y", "type": "quantitative", "scale": {"domain": [-2.3, 6.48], "nice": false, "zero": false},
        "axis": {"orient": "left", "values": [-2,-1,0,1,2,3,4,5,6], "labelExpr": "datum.value == -2 ? '10⁻²' : datum.value == 0 ? '10⁰' : datum.value == 2 ? '10²' : datum.value == 4 ? '10⁴' : datum.value == 6 ? '10⁶' : ''", "labelFont": "DejaVu Sans", "labelFontSize": 18, "labelPadding": 11, "title": "Jag1 production ( βz )", "titleX": -77, "titleY": 128, "titleBaseline": "alphabetic"}},
  "color": {"field": "c", "type": "nominal", "scale": {"domain": ["green", "lightblue", "darkblue", "yellow"], "range": ["#80C080", "#8080FF", "#3F5FBF", "#E0E080"]}, "legend": null},
  "detail": {"field": "g"},
  "order": {"value": null}
 }},
{"data": {"name": "D_solid"},
 "mark": {"type": "line", "color": "black", "strokeWidth": 2, "clip": true},
 "encoding": {
  "x": {"field": "x", "type": "quantitative", "scale": {"domain": [-8.3, 4.33], "nice": false, "zero": false}, "axis": null},
  "y": {"field": "y", "type": "quantitative", "scale": {"domain": [-2.3, 6.48], "nice": false, "zero": false}, "axis": null},
  "detail": {"field": "g"}, "order": {"value": null}}},
{"data": {"name": "D_dash"},
 "mark": {"type": "line", "color": "black", "strokeWidth": 2.5, "strokeDash": [6, 4], "clip": true},
 "encoding": {
  "x": {"field": "x", "type": "quantitative", "scale": {"domain": [-8.3, 4.33], "nice": false, "zero": false}, "axis": null},
  "y": {"field": "y", "type": "quantitative", "scale": {"domain": [-2.3, 6.48], "nice": false, "zero": false}, "axis": null},
  "detail": {"field": "g"}, "order": {"value": null}}},
{"data": {"name": "D_red"},
 "mark": {"type": "line", "color": "#ff0000", "strokeWidth": 2.6, "strokeDash": [7, 5], "clip": true},
 "encoding": {
  "x": {"field": "x", "type": "quantitative", "scale": {"domain": [-8.3, 4.33], "nice": false, "zero": false}, "axis": {"orient": "top", "labels": false, "title": null, "values": [-8,-7,-6,-5,-4,-3,-2,-1,0,1,2,3,4]}},
  "y": {"field": "y", "type": "quantitative", "scale": {"domain": [-2.3, 6.48], "nice": false, "zero": false}, "axis": null},
  "detail": {"field": "g"}, "order": {"value": null}}},
{"data": {"values": [{}]},
 "mark": {"type": "rect", "filled": false, "stroke": "black", "strokeWidth": 3.4, "clip": true},
 "encoding": {
  "x": {"datum": -8.3, "type": "quantitative", "scale": {"domain": [-8.3, 4.33], "nice": false, "zero": false}, "axis": null},
  "x2": {"datum": 4.6},
  "y": {"datum": -2.3, "type": "quantitative", "scale": {"domain": [-2.3, 6.48], "nice": false, "zero": false}, "axis": null},
  "y2": {"datum": 6.48}}}
],
"resolve": {"axis": {"x": "independent", "y": "independent"}}
}
],
"config": {
 "view": {"stroke": null},
 "font": "Liberation Sans",
 "axis": {"grid": false, "domain": false, "tickColor": "black", "tickWidth": 1.2, "tickSize": -5, "labelFont": "Liberation Sans", "labelFontSize": 19, "labelFontWeight": "bold", "labelColor": "black", "titleFont": "Liberation Sans", "titleFontSize": 20, "titleFontWeight": "bold", "titleColor": "black", "labelFlush": false, "labelOverlap": false, "zindex": 1},
 "title": {"font": "Liberation Sans", "fontSize": 27, "fontWeight": "bold", "color": "black", "anchor": "start", "frame": "group"}
}
}
